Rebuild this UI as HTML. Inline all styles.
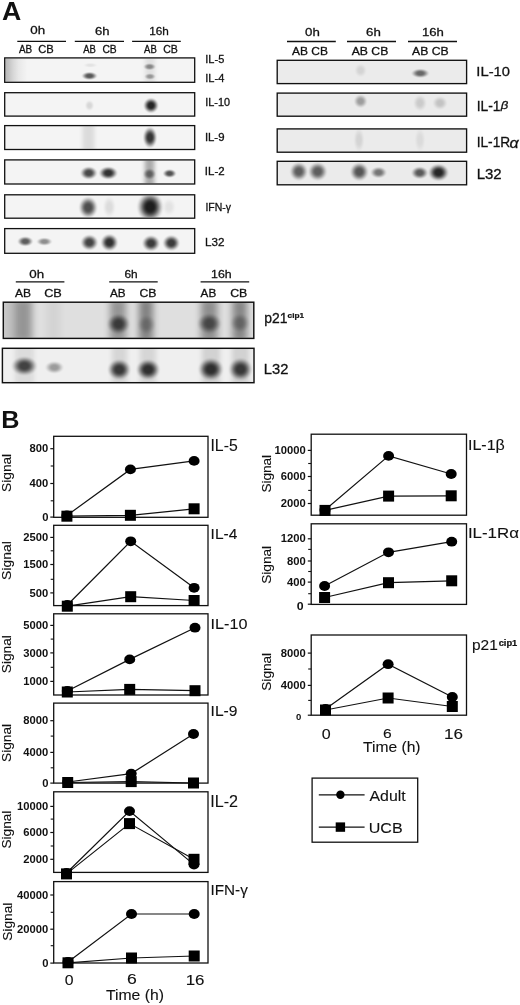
<!DOCTYPE html>
<html><head><meta charset="utf-8"><style>
html,body{margin:0;padding:0;background:#fff;width:520px;height:1005px;overflow:hidden}
svg{display:block}
text{font-family:"Liberation Sans", sans-serif}
</style></head><body>
<svg width="520" height="1005" viewBox="0 0 520 1005" style="filter:grayscale(1)">
<defs>
<clipPath id="bc0"><rect x="5.4" y="58.6" width="188.60" height="23.00"/></clipPath><clipPath id="bc1"><rect x="5.4" y="93.4" width="188.60" height="22.00"/></clipPath><clipPath id="bc2"><rect x="5.4" y="126.3" width="188.60" height="22.50"/></clipPath><clipPath id="bc3"><rect x="5.4" y="160.6" width="188.60" height="22.70"/></clipPath><clipPath id="bc4"><rect x="5.4" y="195.5" width="188.60" height="22.00"/></clipPath><clipPath id="bc5"><rect x="5.4" y="229.29999999999998" width="188.60" height="23.30"/></clipPath><clipPath id="bc6"><rect x="277.9" y="61.0" width="188.00" height="21.90"/></clipPath><clipPath id="bc7"><rect x="277.9" y="93.8" width="188.00" height="21.70"/></clipPath><clipPath id="bc8"><rect x="277.9" y="129.6" width="188.00" height="21.90"/></clipPath><clipPath id="bc9"><rect x="277.9" y="162.0" width="188.00" height="22.10"/></clipPath><clipPath id="bc10"><rect x="4" y="302.9" width="249.10" height="34.80"/></clipPath><clipPath id="bc11"><rect x="3.1" y="349" width="250.20" height="33.00"/></clipPath>
<clipPath id="cp1"><rect x="4" y="302.9" width="249.1" height="34.8"/></clipPath>
<filter id="b5" x="-1" y="-1" width="3" height="3"><feGaussianBlur stdDeviation="0.5"/></filter><filter id="b6" x="-1" y="-1" width="3" height="3"><feGaussianBlur stdDeviation="0.6"/></filter><filter id="b7" x="-1" y="-1" width="3" height="3"><feGaussianBlur stdDeviation="0.7"/></filter><filter id="b8" x="-1" y="-1" width="3" height="3"><feGaussianBlur stdDeviation="0.8"/></filter><filter id="b9" x="-1" y="-1" width="3" height="3"><feGaussianBlur stdDeviation="0.9"/></filter><filter id="b10" x="-1" y="-1" width="3" height="3"><feGaussianBlur stdDeviation="1.0"/></filter><filter id="b11" x="-1" y="-1" width="3" height="3"><feGaussianBlur stdDeviation="1.1"/></filter><filter id="b12" x="-1" y="-1" width="3" height="3"><feGaussianBlur stdDeviation="1.2"/></filter><filter id="b13" x="-1" y="-1" width="3" height="3"><feGaussianBlur stdDeviation="1.3"/></filter><filter id="b14" x="-1" y="-1" width="3" height="3"><feGaussianBlur stdDeviation="1.4"/></filter><filter id="b15" x="-1" y="-1" width="3" height="3"><feGaussianBlur stdDeviation="1.5"/></filter><filter id="b16" x="-1" y="-1" width="3" height="3"><feGaussianBlur stdDeviation="1.6"/></filter><filter id="b17" x="-1" y="-1" width="3" height="3"><feGaussianBlur stdDeviation="1.7"/></filter><filter id="b18" x="-1" y="-1" width="3" height="3"><feGaussianBlur stdDeviation="1.8"/></filter><filter id="b19" x="-1" y="-1" width="3" height="3"><feGaussianBlur stdDeviation="1.9"/></filter><filter id="b20" x="-1" y="-1" width="3" height="3"><feGaussianBlur stdDeviation="2.0"/></filter><filter id="b21" x="-1" y="-1" width="3" height="3"><feGaussianBlur stdDeviation="2.1"/></filter><filter id="b22" x="-1" y="-1" width="3" height="3"><feGaussianBlur stdDeviation="2.2"/></filter><filter id="b23" x="-1" y="-1" width="3" height="3"><feGaussianBlur stdDeviation="2.3"/></filter><filter id="b24" x="-1" y="-1" width="3" height="3"><feGaussianBlur stdDeviation="2.4"/></filter><filter id="b25" x="-1" y="-1" width="3" height="3"><feGaussianBlur stdDeviation="2.5"/></filter><filter id="b26" x="-1" y="-1" width="3" height="3"><feGaussianBlur stdDeviation="2.6"/></filter><filter id="b27" x="-1" y="-1" width="3" height="3"><feGaussianBlur stdDeviation="2.7"/></filter><filter id="b28" x="-1" y="-1" width="3" height="3"><feGaussianBlur stdDeviation="2.8"/></filter><filter id="b29" x="-1" y="-1" width="3" height="3"><feGaussianBlur stdDeviation="2.9"/></filter><filter id="b30" x="-1" y="-1" width="3" height="3"><feGaussianBlur stdDeviation="3.0"/></filter><filter id="b31" x="-1" y="-1" width="3" height="3"><feGaussianBlur stdDeviation="3.1"/></filter><filter id="b32" x="-1" y="-1" width="3" height="3"><feGaussianBlur stdDeviation="3.2"/></filter><filter id="b33" x="-1" y="-1" width="3" height="3"><feGaussianBlur stdDeviation="3.3"/></filter><filter id="b34" x="-1" y="-1" width="3" height="3"><feGaussianBlur stdDeviation="3.4"/></filter><filter id="b35" x="-1" y="-1" width="3" height="3"><feGaussianBlur stdDeviation="3.5"/></filter><filter id="b36" x="-1" y="-1" width="3" height="3"><feGaussianBlur stdDeviation="3.6"/></filter><filter id="b37" x="-1" y="-1" width="3" height="3"><feGaussianBlur stdDeviation="3.7"/></filter><filter id="b38" x="-1" y="-1" width="3" height="3"><feGaussianBlur stdDeviation="3.8"/></filter><filter id="b39" x="-1" y="-1" width="3" height="3"><feGaussianBlur stdDeviation="3.9"/></filter><filter id="b40" x="-1" y="-1" width="3" height="3"><feGaussianBlur stdDeviation="4.0"/></filter>
<radialGradient id="rg" cx="0.5" cy="0.5" r="0.5"><stop offset="0.00" stop-color="#000" stop-opacity="1.000"/><stop offset="0.05" stop-color="#000" stop-opacity="1.000"/><stop offset="0.10" stop-color="#000" stop-opacity="1.000"/><stop offset="0.15" stop-color="#000" stop-opacity="1.000"/><stop offset="0.20" stop-color="#000" stop-opacity="1.000"/><stop offset="0.25" stop-color="#000" stop-opacity="0.990"/><stop offset="0.30" stop-color="#000" stop-opacity="0.962"/><stop offset="0.35" stop-color="#000" stop-opacity="0.916"/><stop offset="0.40" stop-color="#000" stop-opacity="0.854"/><stop offset="0.45" stop-color="#000" stop-opacity="0.778"/><stop offset="0.50" stop-color="#000" stop-opacity="0.691"/><stop offset="0.55" stop-color="#000" stop-opacity="0.598"/><stop offset="0.60" stop-color="#000" stop-opacity="0.500"/><stop offset="0.65" stop-color="#000" stop-opacity="0.402"/><stop offset="0.70" stop-color="#000" stop-opacity="0.309"/><stop offset="0.75" stop-color="#000" stop-opacity="0.222"/><stop offset="0.80" stop-color="#000" stop-opacity="0.146"/><stop offset="0.85" stop-color="#000" stop-opacity="0.084"/><stop offset="0.90" stop-color="#000" stop-opacity="0.038"/><stop offset="0.95" stop-color="#000" stop-opacity="0.010"/><stop offset="1.00" stop-color="#000" stop-opacity="0.000"/></radialGradient>
<linearGradient id="lgl" x1="0" x2="1" y1="0" y2="0"><stop offset="0.00" stop-color="#000" stop-opacity="0.000"/><stop offset="0.05" stop-color="#000" stop-opacity="0.120"/><stop offset="0.10" stop-color="#000" stop-opacity="0.287"/><stop offset="0.15" stop-color="#000" stop-opacity="0.491"/><stop offset="0.20" stop-color="#000" stop-opacity="0.704"/><stop offset="0.25" stop-color="#000" stop-opacity="0.883"/><stop offset="0.30" stop-color="#000" stop-opacity="0.986"/><stop offset="0.35" stop-color="#000" stop-opacity="1.000"/><stop offset="0.40" stop-color="#000" stop-opacity="1.000"/><stop offset="0.45" stop-color="#000" stop-opacity="1.000"/><stop offset="0.50" stop-color="#000" stop-opacity="1.000"/><stop offset="0.55" stop-color="#000" stop-opacity="1.000"/><stop offset="0.60" stop-color="#000" stop-opacity="1.000"/><stop offset="0.65" stop-color="#000" stop-opacity="1.000"/><stop offset="0.70" stop-color="#000" stop-opacity="0.986"/><stop offset="0.75" stop-color="#000" stop-opacity="0.883"/><stop offset="0.80" stop-color="#000" stop-opacity="0.704"/><stop offset="0.85" stop-color="#000" stop-opacity="0.491"/><stop offset="0.90" stop-color="#000" stop-opacity="0.287"/><stop offset="0.95" stop-color="#000" stop-opacity="0.120"/><stop offset="1.00" stop-color="#000" stop-opacity="0.000"/></linearGradient>
<linearGradient id="lg1" x1="0" x2="1" y1="0" y2="0"><stop offset="0" stop-color="#000" stop-opacity="0.25"/><stop offset="0.15" stop-color="#000" stop-opacity="0.2"/><stop offset="0.35" stop-color="#000" stop-opacity="0.12"/><stop offset="0.6" stop-color="#000" stop-opacity="0.05"/><stop offset="1" stop-color="#000" stop-opacity="0"/></linearGradient>
</defs>
<text font-size="100" font-weight="bold" fill="#111" transform="translate(2.10,20.05) scale(0.26667,0.25441)">A</text>
<text font-size="100" font-weight="normal" fill="#111" stroke="#111" stroke-width="2.45" transform="translate(30.37,34.49) scale(0.13366,0.11216)">0h</text>
<text font-size="100" font-weight="normal" fill="#111" stroke="#111" stroke-width="2.47" transform="translate(94.94,34.89) scale(0.13100,0.11216)">6h</text>
<text font-size="100" font-weight="normal" fill="#111" stroke="#111" stroke-width="2.55" transform="translate(149.26,34.88) scale(0.11776,0.11757)">16h</text>
<line x1="17.3" y1="41.4" x2="66" y2="41.4" stroke="#111" stroke-width="1.3"/>
<line x1="74.8" y1="41.4" x2="124" y2="41.4" stroke="#111" stroke-width="1.3"/>
<line x1="132.1" y1="41.4" x2="180.8" y2="41.4" stroke="#111" stroke-width="1.3"/>
<text font-size="100" font-weight="normal" fill="#111" stroke="#111" stroke-width="2.91" transform="translate(19.00,53.00) scale(0.09922,0.10725)">AB</text>
<text font-size="100" font-weight="normal" fill="#111" stroke="#111" stroke-width="2.78" transform="translate(38.14,52.90) scale(0.11163,0.10423)">CB</text>
<text font-size="100" font-weight="normal" fill="#111" stroke="#111" stroke-width="2.98" transform="translate(83.30,53.00) scale(0.09453,0.10725)">AB</text>
<text font-size="100" font-weight="normal" fill="#111" stroke="#111" stroke-width="2.89" transform="translate(102.38,52.90) scale(0.10310,0.10423)">CB</text>
<text font-size="100" font-weight="normal" fill="#111" stroke="#111" stroke-width="2.97" transform="translate(144.10,53.00) scale(0.09531,0.10725)">AB</text>
<text font-size="100" font-weight="normal" fill="#111" stroke="#111" stroke-width="2.86" transform="translate(163.17,52.90) scale(0.10543,0.10423)">CB</text>
<rect x="4.7" y="57.9" width="190.0" height="24.4" fill="#f4f4f4" stroke="#111" stroke-width="1.3"/>
<rect x="4.7" y="92.7" width="190.0" height="23.39999999999999" fill="#f4f4f4" stroke="#111" stroke-width="1.3"/>
<rect x="4.7" y="125.6" width="190.0" height="23.900000000000006" fill="#f4f4f4" stroke="#111" stroke-width="1.3"/>
<rect x="4.7" y="159.9" width="190.0" height="24.099999999999994" fill="#f4f4f4" stroke="#111" stroke-width="1.3"/>
<rect x="4.7" y="194.8" width="190.0" height="23.399999999999977" fill="#f4f4f4" stroke="#111" stroke-width="1.3"/>
<rect x="4.7" y="228.6" width="190.0" height="24.700000000000017" fill="#f4f4f4" stroke="#111" stroke-width="1.3"/>
<rect x="5.4" y="58.6" width="22" height="23" fill="url(#lg1)"/>
<ellipse cx="89.5" cy="75.9" rx="8.79" ry="4.55" fill="url(#rg)" opacity="0.64" clip-path="url(#bc0)"/>
<ellipse cx="90.4" cy="65.2" rx="7.88" ry="2.73" fill="url(#rg)" opacity="0.07" clip-path="url(#bc0)"/>
<ellipse cx="149.6" cy="66.7" rx="6.97" ry="3.94" fill="url(#rg)" opacity="0.4" clip-path="url(#bc0)"/>
<ellipse cx="150" cy="76.5" rx="6.36" ry="3.64" fill="url(#rg)" opacity="0.33" clip-path="url(#bc0)"/>
<rect x="145" y="56" width="10" height="29" fill="#000" opacity="0.08" filter="url(#b20)" clip-path="url(#bc0)"/>
<ellipse cx="89.5" cy="105.5" rx="5.30" ry="6.06" fill="url(#rg)" opacity="0.12" clip-path="url(#bc1)"/>
<ellipse cx="151" cy="105.5" rx="8.48" ry="8.48" fill="url(#rg)" opacity="0.85" clip-path="url(#bc1)"/>
<rect x="82.7" y="122" width="11.5" height="31" fill="#000" opacity="0.1" filter="url(#b20)" clip-path="url(#bc2)"/>
<ellipse cx="150" cy="137.5" rx="7.88" ry="11.82" fill="url(#rg)" opacity="0.78" clip-path="url(#bc2)"/>
<ellipse cx="88.8" cy="173" rx="9.55" ry="7.27" fill="url(#rg)" opacity="0.7" clip-path="url(#bc3)"/>
<ellipse cx="108.3" cy="173" rx="10.45" ry="7.27" fill="url(#rg)" opacity="0.8" clip-path="url(#bc3)"/>
<rect x="144.8" y="156" width="9.5" height="32" fill="#000" opacity="0.3" filter="url(#b20)" clip-path="url(#bc3)"/>
<ellipse cx="149.5" cy="174" rx="7.27" ry="6.36" fill="url(#rg)" opacity="0.45" clip-path="url(#bc3)"/>
<ellipse cx="169.6" cy="173.5" rx="7.58" ry="4.85" fill="url(#rg)" opacity="0.66" clip-path="url(#bc3)"/>
<ellipse cx="88.2" cy="207.5" rx="10.45" ry="11.97" fill="url(#rg)" opacity="0.68" clip-path="url(#bc4)"/>
<ellipse cx="109.3" cy="207" rx="7.27" ry="12.12" fill="url(#rg)" opacity="0.1" clip-path="url(#bc4)"/>
<ellipse cx="150.1" cy="207" rx="14.39" ry="16.06" fill="url(#rg)" opacity="0.88" clip-path="url(#bc4)"/>
<ellipse cx="169.1" cy="207" rx="7.58" ry="9.85" fill="url(#rg)" opacity="0.07" clip-path="url(#bc4)"/>
<ellipse cx="25.3" cy="241.4" rx="8.79" ry="5.61" fill="url(#rg)" opacity="0.62" clip-path="url(#bc5)"/>
<ellipse cx="44.4" cy="241.6" rx="8.79" ry="4.55" fill="url(#rg)" opacity="0.42" clip-path="url(#bc5)"/>
<ellipse cx="89.4" cy="242.5" rx="9.70" ry="8.79" fill="url(#rg)" opacity="0.72" clip-path="url(#bc5)"/>
<ellipse cx="109.4" cy="242.5" rx="9.70" ry="9.55" fill="url(#rg)" opacity="0.8" clip-path="url(#bc5)"/>
<ellipse cx="151" cy="243.3" rx="9.85" ry="8.94" fill="url(#rg)" opacity="0.76" clip-path="url(#bc5)"/>
<ellipse cx="171.3" cy="243" rx="9.55" ry="8.79" fill="url(#rg)" opacity="0.76" clip-path="url(#bc5)"/>
<text font-size="100" font-weight="normal" fill="#111" stroke="#111" stroke-width="2.69" transform="translate(205.31,62.59) scale(0.11006,0.11286)">IL-5</text>
<text font-size="100" font-weight="normal" fill="#111" stroke="#111" stroke-width="2.70" transform="translate(205.30,81.70) scale(0.11062,0.11159)">IL-4</text>
<text font-size="100" font-weight="normal" fill="#111" stroke="#111" stroke-width="2.80" transform="translate(205.32,106.39) scale(0.10837,0.10563)">IL-10</text>
<text font-size="100" font-weight="normal" fill="#111" stroke="#111" stroke-width="2.70" transform="translate(204.88,141.49) scale(0.11384,0.10845)">IL-9</text>
<text font-size="100" font-weight="normal" fill="#111" stroke="#111" stroke-width="2.71" transform="translate(204.87,175.00) scale(0.11456,0.10714)">IL-2</text>
<text font-size="100" font-weight="normal" fill="#111" stroke="#111" stroke-width="2.71" transform="translate(205.46,210.85) scale(0.10468,0.11667)">IFN-&#947;</text>
<text font-size="100" font-weight="normal" fill="#111" stroke="#111" stroke-width="2.58" transform="translate(205.06,245.68) scale(0.11688,0.11549)">L32</text>
<text font-size="100" font-weight="normal" fill="#111" stroke="#111" stroke-width="2.43" transform="translate(305.07,35.69) scale(0.13267,0.11486)">0h</text>
<text font-size="100" font-weight="normal" fill="#111" stroke="#111" stroke-width="2.43" transform="translate(366.03,35.69) scale(0.13300,0.11486)">6h</text>
<text font-size="100" font-weight="normal" fill="#111" stroke="#111" stroke-width="2.41" transform="translate(421.95,35.88) scale(0.13158,0.11757)">16h</text>
<line x1="287" y1="41.5" x2="335.8" y2="41.5" stroke="#111" stroke-width="1.3"/>
<line x1="347" y1="41.5" x2="396" y2="41.5" stroke="#111" stroke-width="1.3"/>
<line x1="408" y1="41.5" x2="457" y2="41.5" stroke="#111" stroke-width="1.3"/>
<text font-size="100" font-weight="normal" fill="#111" stroke="#111" stroke-width="2.63" transform="translate(292.00,55.49) scale(0.11966,0.10845)">AB CB</text>
<text font-size="100" font-weight="normal" fill="#111" stroke="#111" stroke-width="2.61" transform="translate(351.70,55.49) scale(0.12203,0.10845)">AB CB</text>
<text font-size="100" font-weight="normal" fill="#111" stroke="#111" stroke-width="2.61" transform="translate(412.00,55.49) scale(0.12203,0.10845)">AB CB</text>
<rect x="277.2" y="60.3" width="189.40000000000003" height="23.299999999999997" fill="#ebebeb" stroke="#111" stroke-width="1.35"/>
<rect x="277.2" y="93.1" width="189.40000000000003" height="23.10000000000001" fill="#ebebeb" stroke="#111" stroke-width="1.35"/>
<rect x="277.2" y="128.9" width="189.40000000000003" height="23.299999999999983" fill="#ebebeb" stroke="#111" stroke-width="1.35"/>
<rect x="277.2" y="161.3" width="189.40000000000003" height="23.5" fill="#ebebeb" stroke="#111" stroke-width="1.35"/>
<ellipse cx="360.6" cy="70.4" rx="6.82" ry="7.58" fill="url(#rg)" opacity="0.1" clip-path="url(#bc6)"/>
<ellipse cx="420.3" cy="73.3" rx="10.00" ry="5.15" fill="url(#rg)" opacity="0.56" clip-path="url(#bc6)"/>
<ellipse cx="360.6" cy="101.2" rx="7.58" ry="7.58" fill="url(#rg)" opacity="0.33" clip-path="url(#bc7)"/>
<ellipse cx="420" cy="103" rx="7.58" ry="9.09" fill="url(#rg)" opacity="0.14" clip-path="url(#bc7)"/>
<ellipse cx="440" cy="103" rx="8.33" ry="7.58" fill="url(#rg)" opacity="0.17" clip-path="url(#bc7)"/>
<ellipse cx="359" cy="140" rx="6.06" ry="13.64" fill="url(#rg)" opacity="0.1" clip-path="url(#bc8)"/>
<ellipse cx="420" cy="140" rx="6.06" ry="13.64" fill="url(#rg)" opacity="0.07" clip-path="url(#bc8)"/>
<ellipse cx="298.8" cy="171.5" rx="10.00" ry="10.30" fill="url(#rg)" opacity="0.6" clip-path="url(#bc9)"/>
<ellipse cx="317.7" cy="171.5" rx="10.61" ry="10.30" fill="url(#rg)" opacity="0.6" clip-path="url(#bc9)"/>
<ellipse cx="359.3" cy="171.8" rx="10.30" ry="10.30" fill="url(#rg)" opacity="0.64" clip-path="url(#bc9)"/>
<ellipse cx="378.6" cy="172.5" rx="9.09" ry="6.36" fill="url(#rg)" opacity="0.5" clip-path="url(#bc9)"/>
<ellipse cx="419.7" cy="172.8" rx="9.39" ry="6.97" fill="url(#rg)" opacity="0.62" clip-path="url(#bc9)"/>
<ellipse cx="438.5" cy="172.5" rx="11.36" ry="9.55" fill="url(#rg)" opacity="0.84" clip-path="url(#bc9)"/>
<text font-size="100" font-weight="normal" fill="#111" stroke="#111" stroke-width="2.11" transform="translate(476.37,75.86) scale(0.14744,0.13662)">IL-10</text>
<text font-size="100" font-weight="normal" fill="#111" stroke="#111" stroke-width="2.10" transform="translate(476.65,110.80) scale(0.13861,0.14783)">IL-1</text>
<text font-size="100" font-weight="normal" fill="#111" stroke="#111" stroke-width="2.43" transform="translate(500.66,109.46) scale(0.13158,0.11596)"><tspan font-style="italic">&#946;</tspan></text>
<text font-size="100" font-weight="normal" fill="#111" stroke="#111" stroke-width="2.07" transform="translate(476.66,147.20) scale(0.13739,0.15217)">IL-1R</text>
<text font-size="100" font-weight="normal" fill="#111" stroke="#111" stroke-width="1.94" transform="translate(509.52,147.55) scale(0.16071,0.14909)"><tspan font-style="italic">&#945;</tspan></text>
<text font-size="100" font-weight="normal" fill="#111" stroke="#111" stroke-width="2.02" transform="translate(476.70,179.25) scale(0.15000,0.14648)">L32</text>
<text font-size="100" font-weight="normal" fill="#111" stroke="#111" stroke-width="2.42" transform="translate(29.27,278.39) scale(0.13366,0.11486)">0h</text>
<text font-size="100" font-weight="normal" fill="#111" stroke="#111" stroke-width="2.57" transform="translate(124.41,278.39) scale(0.11900,0.11486)">6h</text>
<text font-size="100" font-weight="normal" fill="#111" stroke="#111" stroke-width="2.52" transform="translate(211.01,278.39) scale(0.12368,0.11486)">16h</text>
<line x1="15.8" y1="281.9" x2="64.4" y2="281.9" stroke="#111" stroke-width="1.4"/>
<line x1="109.2" y1="281.9" x2="157.7" y2="281.9" stroke="#111" stroke-width="1.4"/>
<line x1="200.6" y1="281.9" x2="249.2" y2="281.9" stroke="#111" stroke-width="1.4"/>
<text font-size="100" font-weight="normal" fill="#111" stroke="#111" stroke-width="2.52" transform="translate(15.00,297.30) scale(0.12031,0.11739)">AB</text>
<text font-size="100" font-weight="normal" fill="#111" stroke="#111" stroke-width="2.49" transform="translate(44.16,297.19) scale(0.12713,0.11408)">CB</text>
<text font-size="100" font-weight="normal" fill="#111" stroke="#111" stroke-width="2.56" transform="translate(110.00,297.30) scale(0.11719,0.11739)">AB</text>
<text font-size="100" font-weight="normal" fill="#111" stroke="#111" stroke-width="2.54" transform="translate(139.39,297.19) scale(0.12248,0.11408)">CB</text>
<text font-size="100" font-weight="normal" fill="#111" stroke="#111" stroke-width="2.56" transform="translate(200.60,297.30) scale(0.11719,0.11739)">AB</text>
<text font-size="100" font-weight="normal" fill="#111" stroke="#111" stroke-width="2.53" transform="translate(230.18,297.19) scale(0.12326,0.11408)">CB</text>
<rect x="3.3" y="302.2" width="250.5" height="36.19999999999999" fill="#dfdfdf" stroke="#111" stroke-width="1.45"/>
<rect x="2.4" y="348.3" width="251.6" height="34.39999999999998" fill="#efefef" stroke="#111" stroke-width="1.45"/>
<rect x="14" y="298.5" width="18" height="43.19999999999999" fill="#000" opacity="0.33" filter="url(#b35)" clip-path="url(#bc10)"/>
<rect x="47" y="298.5" width="13" height="43.19999999999999" fill="#000" opacity="0.05" filter="url(#b35)" clip-path="url(#bc10)"/>
<rect x="110" y="298.5" width="16" height="43.19999999999999" fill="#000" opacity="0.33" filter="url(#b35)" clip-path="url(#bc10)"/>
<rect x="139" y="298.5" width="14" height="43.19999999999999" fill="#000" opacity="0.42" filter="url(#b35)" clip-path="url(#bc10)"/>
<rect x="201" y="298.5" width="16.5" height="43.19999999999999" fill="#000" opacity="0.36" filter="url(#b35)" clip-path="url(#bc10)"/>
<rect x="232.5" y="298.5" width="14.5" height="43.19999999999999" fill="#000" opacity="0.4" filter="url(#b35)" clip-path="url(#bc10)"/>
<rect x="2" y="298.5" width="12" height="43.19999999999999" fill="#000" opacity="0.12" filter="url(#b30)" clip-path="url(#bc10)"/>
<ellipse cx="118.5" cy="324" rx="12.88" ry="11.36" fill="url(#rg)" opacity="0.62" clip-path="url(#bc10)"/>
<ellipse cx="146.5" cy="324.5" rx="10.61" ry="10.61" fill="url(#rg)" opacity="0.22" clip-path="url(#bc10)"/>
<ellipse cx="209.4" cy="323.5" rx="13.64" ry="11.36" fill="url(#rg)" opacity="0.52" clip-path="url(#bc10)"/>
<ellipse cx="240" cy="323" rx="11.36" ry="10.61" fill="url(#rg)" opacity="0.28" clip-path="url(#bc10)"/>
<rect x="15" y="345" width="19" height="41" fill="#000" opacity="0.08" filter="url(#b25)" clip-path="url(#bc11)"/>
<rect x="112" y="345" width="15" height="41" fill="#000" opacity="0.1" filter="url(#b25)" clip-path="url(#bc11)"/>
<rect x="140" y="345" width="16" height="41" fill="#000" opacity="0.1" filter="url(#b25)" clip-path="url(#bc11)"/>
<rect x="202" y="345" width="18" height="41" fill="#000" opacity="0.12" filter="url(#b25)" clip-path="url(#bc11)"/>
<rect x="232" y="345" width="17" height="41" fill="#000" opacity="0.12" filter="url(#b25)" clip-path="url(#bc11)"/>
<ellipse cx="24.4" cy="366" rx="14.24" ry="10.61" fill="url(#rg)" opacity="0.7" clip-path="url(#bc11)"/>
<ellipse cx="54.4" cy="367.4" rx="10.45" ry="6.97" fill="url(#rg)" opacity="0.35" clip-path="url(#bc11)"/>
<ellipse cx="119.2" cy="369.6" rx="12.88" ry="11.52" fill="url(#rg)" opacity="0.74" clip-path="url(#bc11)"/>
<ellipse cx="148.1" cy="369.6" rx="13.18" ry="11.52" fill="url(#rg)" opacity="0.78" clip-path="url(#bc11)"/>
<ellipse cx="210.8" cy="369.3" rx="13.94" ry="12.58" fill="url(#rg)" opacity="0.78" clip-path="url(#bc11)"/>
<ellipse cx="240.5" cy="369.3" rx="13.18" ry="12.58" fill="url(#rg)" opacity="0.74" clip-path="url(#bc11)"/>
<text font-size="100" font-weight="normal" fill="#111" stroke="#111" stroke-width="2.14" transform="translate(264.32,323.05) scale(0.13935,0.14066)">p21</text>
<text font-size="100" font-weight="bold" fill="#111" stroke="#111" stroke-width="3.15" transform="translate(287.57,318.29) scale(0.08238,0.07660)">cip1</text>
<text font-size="100" font-weight="normal" fill="#111" stroke="#111" stroke-width="2.06" transform="translate(263.82,374.06) scale(0.14740,0.14366)">L32</text>
<text font-size="100" font-weight="bold" fill="#111" transform="translate(1.13,427.90) scale(0.25246,0.23043)">B</text>
<rect x="53.7" y="436.3" width="154.3" height="80.99999999999994" fill="none" stroke="#111" stroke-width="1.3"/>
<line x1="50.300000000000004" y1="448.7" x2="53.7" y2="448.7" stroke="#111" stroke-width="1.2"/>
<text font-size="100" font-weight="bold" fill="#111" transform="translate(29.55,452.39) scale(0.11256,0.10704)">800</text>
<line x1="50.300000000000004" y1="483.5" x2="53.7" y2="483.5" stroke="#111" stroke-width="1.2"/>
<text font-size="100" font-weight="bold" fill="#111" transform="translate(29.55,487.19) scale(0.11256,0.10704)">400</text>
<line x1="50.300000000000004" y1="517.1" x2="53.7" y2="517.1" stroke="#111" stroke-width="1.2"/>
<text font-size="100" font-weight="bold" fill="#111" transform="translate(42.16,520.79) scale(0.11256,0.10704)">0</text>
<line x1="50.7" y1="466" x2="53.7" y2="466" stroke="#111" stroke-width="1.1"/>
<line x1="50.7" y1="500.8" x2="53.7" y2="500.8" stroke="#111" stroke-width="1.1"/>
<polyline points="66.9,515.5 130.4,469.4 194.1,460.9" fill="none" stroke="#111" stroke-width="1.2"/>
<polyline points="66.9,516.2 130.4,515.3 194.1,508.8" fill="none" stroke="#111" stroke-width="1.2"/>
<ellipse cx="66.9" cy="515.5" rx="5.5" ry="4.9" fill="#000"/>
<ellipse cx="130.4" cy="469.4" rx="5.5" ry="4.9" fill="#000"/>
<ellipse cx="194.1" cy="460.9" rx="5.5" ry="4.9" fill="#000"/>
<rect x="61.40" y="510.70" width="11" height="11" fill="#000"/>
<rect x="124.90" y="509.80" width="11" height="11" fill="#000"/>
<rect x="188.60" y="503.30" width="11" height="11" fill="#000"/>
<text font-size="100" font-weight="normal" fill="#111" stroke="#111" stroke-width="0.76" transform="translate(210.48,451.24) scale(0.15786,0.15714)">IL-5</text>
<text font-size="100" font-weight="normal" fill="#111" stroke="#111" stroke-width="0.89" transform="translate(11.11,491.88) rotate(-90) scale(0.13684,0.13298)">Signal</text>
<rect x="53.7" y="525.3" width="154.3" height="80.30000000000007" fill="none" stroke="#111" stroke-width="1.3"/>
<line x1="50.300000000000004" y1="537.4" x2="53.7" y2="537.4" stroke="#111" stroke-width="1.2"/>
<text font-size="100" font-weight="bold" fill="#111" transform="translate(23.36,541.09) scale(0.11256,0.10704)">2500</text>
<line x1="50.300000000000004" y1="564.5" x2="53.7" y2="564.5" stroke="#111" stroke-width="1.2"/>
<text font-size="100" font-weight="bold" fill="#111" transform="translate(23.36,568.19) scale(0.11256,0.10704)">1500</text>
<line x1="50.300000000000004" y1="592.9" x2="53.7" y2="592.9" stroke="#111" stroke-width="1.2"/>
<text font-size="100" font-weight="bold" fill="#111" transform="translate(29.55,596.59) scale(0.11256,0.10704)">500</text>
<line x1="50.7" y1="550.8" x2="53.7" y2="550.8" stroke="#111" stroke-width="1.1"/>
<line x1="50.7" y1="579.3" x2="53.7" y2="579.3" stroke="#111" stroke-width="1.1"/>
<polyline points="67.3,605 130.7,541.3 194.1,587.8" fill="none" stroke="#111" stroke-width="1.2"/>
<polyline points="67.3,606.2 130.7,596.7 194.1,600.5" fill="none" stroke="#111" stroke-width="1.2"/>
<ellipse cx="67.3" cy="605" rx="5.5" ry="4.9" fill="#000"/>
<ellipse cx="130.7" cy="541.3" rx="5.5" ry="4.9" fill="#000"/>
<ellipse cx="194.1" cy="587.8" rx="5.5" ry="4.9" fill="#000"/>
<rect x="61.80" y="600.70" width="11" height="11" fill="#000"/>
<rect x="125.20" y="591.20" width="11" height="11" fill="#000"/>
<rect x="188.60" y="595.00" width="11" height="11" fill="#000"/>
<text font-size="100" font-weight="normal" fill="#111" stroke="#111" stroke-width="0.79" transform="translate(210.60,539.30) scale(0.15500,0.14928)">IL-4</text>
<text font-size="100" font-weight="normal" fill="#111" stroke="#111" stroke-width="0.89" transform="translate(11.07,580.00) rotate(-90) scale(0.13947,0.12979)">Signal</text>
<rect x="53.7" y="613.8" width="154.3" height="81.20000000000005" fill="none" stroke="#111" stroke-width="1.3"/>
<line x1="50.300000000000004" y1="625.4" x2="53.7" y2="625.4" stroke="#111" stroke-width="1.2"/>
<text font-size="100" font-weight="bold" fill="#111" transform="translate(23.36,629.09) scale(0.11256,0.10704)">5000</text>
<line x1="50.300000000000004" y1="652.9" x2="53.7" y2="652.9" stroke="#111" stroke-width="1.2"/>
<text font-size="100" font-weight="bold" fill="#111" transform="translate(23.36,656.59) scale(0.11256,0.10704)">3000</text>
<line x1="50.300000000000004" y1="681.4" x2="53.7" y2="681.4" stroke="#111" stroke-width="1.2"/>
<text font-size="100" font-weight="bold" fill="#111" transform="translate(23.36,685.09) scale(0.11256,0.10704)">1000</text>
<line x1="50.7" y1="639.1" x2="53.7" y2="639.1" stroke="#111" stroke-width="1.1"/>
<line x1="50.7" y1="667.3" x2="53.7" y2="667.3" stroke="#111" stroke-width="1.1"/>
<polyline points="67.3,691 129.7,659.4 195,627.7" fill="none" stroke="#111" stroke-width="1.2"/>
<polyline points="67.3,692 129.7,689.4 195,690.7" fill="none" stroke="#111" stroke-width="1.2"/>
<ellipse cx="67.3" cy="691" rx="5.5" ry="4.9" fill="#000"/>
<ellipse cx="129.7" cy="659.4" rx="5.5" ry="4.9" fill="#000"/>
<ellipse cx="195" cy="627.7" rx="5.5" ry="4.9" fill="#000"/>
<rect x="61.80" y="686.50" width="11" height="11" fill="#000"/>
<rect x="124.20" y="683.90" width="11" height="11" fill="#000"/>
<rect x="189.50" y="685.20" width="11" height="11" fill="#000"/>
<text font-size="100" font-weight="normal" fill="#111" stroke="#111" stroke-width="0.78" transform="translate(210.54,629.35) scale(0.16186,0.14648)">IL-10</text>
<text font-size="100" font-weight="normal" fill="#111" stroke="#111" stroke-width="0.90" transform="translate(11.07,673.19) rotate(-90) scale(0.13722,0.12979)">Signal</text>
<rect x="53.7" y="703.1" width="154.3" height="80.0" fill="none" stroke="#111" stroke-width="1.3"/>
<line x1="50.300000000000004" y1="720.7" x2="53.7" y2="720.7" stroke="#111" stroke-width="1.2"/>
<text font-size="100" font-weight="bold" fill="#111" transform="translate(23.36,724.39) scale(0.11256,0.10704)">8000</text>
<line x1="50.300000000000004" y1="752.4" x2="53.7" y2="752.4" stroke="#111" stroke-width="1.2"/>
<text font-size="100" font-weight="bold" fill="#111" transform="translate(23.36,756.09) scale(0.11256,0.10704)">4000</text>
<line x1="50.300000000000004" y1="783.1" x2="53.7" y2="783.1" stroke="#111" stroke-width="1.2"/>
<text font-size="100" font-weight="bold" fill="#111" transform="translate(42.16,786.79) scale(0.11256,0.10704)">0</text>
<line x1="50.7" y1="736.1" x2="53.7" y2="736.1" stroke="#111" stroke-width="1.1"/>
<line x1="50.7" y1="767.8" x2="53.7" y2="767.8" stroke="#111" stroke-width="1.1"/>
<polyline points="67.7,782 131.2,773.6 193.5,734" fill="none" stroke="#111" stroke-width="1.2"/>
<polyline points="67.7,782.5 131.2,781.6 193.5,783" fill="none" stroke="#111" stroke-width="1.2"/>
<ellipse cx="67.7" cy="782" rx="5.5" ry="4.9" fill="#000"/>
<ellipse cx="131.2" cy="773.6" rx="5.5" ry="4.9" fill="#000"/>
<ellipse cx="193.5" cy="734" rx="5.5" ry="4.9" fill="#000"/>
<rect x="62.20" y="777.00" width="11" height="11" fill="#000"/>
<rect x="125.70" y="776.10" width="11" height="11" fill="#000"/>
<rect x="188.00" y="777.50" width="11" height="11" fill="#000"/>
<text font-size="100" font-weight="normal" fill="#111" stroke="#111" stroke-width="0.80" transform="translate(210.60,716.15) scale(0.15597,0.14507)">IL-9</text>
<text font-size="100" font-weight="normal" fill="#111" stroke="#111" stroke-width="0.90" transform="translate(11.07,761.98) rotate(-90) scale(0.13684,0.12979)">Signal</text>
<rect x="53.7" y="791.8" width="154.3" height="80.60000000000002" fill="none" stroke="#111" stroke-width="1.3"/>
<line x1="50.300000000000004" y1="806.4" x2="53.7" y2="806.4" stroke="#111" stroke-width="1.2"/>
<text font-size="100" font-weight="bold" fill="#111" transform="translate(17.06,810.09) scale(0.11256,0.10704)">10000</text>
<line x1="50.300000000000004" y1="832.5" x2="53.7" y2="832.5" stroke="#111" stroke-width="1.2"/>
<text font-size="100" font-weight="bold" fill="#111" transform="translate(23.36,836.19) scale(0.11256,0.10704)">6000</text>
<line x1="50.300000000000004" y1="859.3" x2="53.7" y2="859.3" stroke="#111" stroke-width="1.2"/>
<text font-size="100" font-weight="bold" fill="#111" transform="translate(23.36,862.99) scale(0.11256,0.10704)">2000</text>
<line x1="50.7" y1="819.1" x2="53.7" y2="819.1" stroke="#111" stroke-width="1.1"/>
<line x1="50.7" y1="846" x2="53.7" y2="846" stroke="#111" stroke-width="1.1"/>
<polyline points="66.5,873 129.5,811.1 194,864.6" fill="none" stroke="#111" stroke-width="1.2"/>
<polyline points="66.5,873.9 129.5,823.6 194,859.3" fill="none" stroke="#111" stroke-width="1.2"/>
<ellipse cx="66.5" cy="873" rx="5.5" ry="4.9" fill="#000"/>
<ellipse cx="129.5" cy="811.1" rx="5.5" ry="4.9" fill="#000"/>
<ellipse cx="194" cy="864.6" rx="5.5" ry="4.9" fill="#000"/>
<rect x="61.00" y="868.40" width="11" height="11" fill="#000"/>
<rect x="124.00" y="818.10" width="11" height="11" fill="#000"/>
<rect x="188.50" y="853.80" width="11" height="11" fill="#000"/>
<text font-size="100" font-weight="normal" fill="#111" stroke="#111" stroke-width="0.75" transform="translate(210.25,806.80) scale(0.16139,0.15714)">IL-2</text>
<text font-size="100" font-weight="normal" fill="#111" stroke="#111" stroke-width="0.90" transform="translate(11.07,848.48) rotate(-90) scale(0.13609,0.12979)">Signal</text>
<rect x="53.7" y="881.6" width="154.3" height="81.39999999999998" fill="none" stroke="#111" stroke-width="1.3"/>
<line x1="50.300000000000004" y1="895" x2="53.7" y2="895" stroke="#111" stroke-width="1.2"/>
<text font-size="100" font-weight="bold" fill="#111" transform="translate(17.06,898.69) scale(0.11256,0.10704)">40000</text>
<line x1="50.300000000000004" y1="929.2" x2="53.7" y2="929.2" stroke="#111" stroke-width="1.2"/>
<text font-size="100" font-weight="bold" fill="#111" transform="translate(17.06,932.89) scale(0.11256,0.10704)">20000</text>
<line x1="50.300000000000004" y1="963.1" x2="53.7" y2="963.1" stroke="#111" stroke-width="1.2"/>
<text font-size="100" font-weight="bold" fill="#111" transform="translate(42.16,966.79) scale(0.11256,0.10704)">0</text>
<line x1="50.7" y1="912.3" x2="53.7" y2="912.3" stroke="#111" stroke-width="1.1"/>
<line x1="50.7" y1="945.7" x2="53.7" y2="945.7" stroke="#111" stroke-width="1.1"/>
<polyline points="68,962 131.5,914 194.2,914" fill="none" stroke="#111" stroke-width="1.2"/>
<polyline points="68,962.8 131.5,958 194.2,956" fill="none" stroke="#111" stroke-width="1.2"/>
<ellipse cx="68" cy="962" rx="5.5" ry="4.9" fill="#000"/>
<ellipse cx="131.5" cy="914" rx="5.5" ry="4.9" fill="#000"/>
<ellipse cx="194.2" cy="914" rx="5.5" ry="4.9" fill="#000"/>
<rect x="62.50" y="957.30" width="11" height="11" fill="#000"/>
<rect x="126.00" y="952.50" width="11" height="11" fill="#000"/>
<rect x="188.70" y="950.50" width="11" height="11" fill="#000"/>
<text font-size="100" font-weight="normal" fill="#111" stroke="#111" stroke-width="0.79" transform="translate(210.53,894.95) scale(0.15277,0.15000)">IFN-&#947;</text>
<text font-size="100" font-weight="normal" fill="#111" stroke="#111" stroke-width="0.88" transform="translate(12.36,940.79) rotate(-90) scale(0.13722,0.13511)">Signal</text>
<text font-size="100" font-weight="normal" fill="#111" stroke="#111" stroke-width="0.77" transform="translate(64.77,984.65) scale(0.15833,0.15211)">0</text>
<text font-size="100" font-weight="normal" fill="#111" stroke="#111" stroke-width="0.74" transform="translate(127.02,984.35) scale(0.17609,0.14789)">6</text>
<text font-size="100" font-weight="normal" fill="#111" stroke="#111" stroke-width="0.75" transform="translate(185.64,984.65) scale(0.16970,0.15211)">16</text>
<text font-size="100" font-weight="normal" fill="#111" stroke="#111" stroke-width="0.77" transform="translate(105.99,999.78) scale(0.15722,0.15319)">Time (h)</text>
<rect x="311.2" y="434.2" width="155.3" height="81.00000000000006" fill="none" stroke="#111" stroke-width="1.3"/>
<line x1="307.8" y1="450.4" x2="311.2" y2="450.4" stroke="#111" stroke-width="1.2"/>
<text font-size="100" font-weight="bold" fill="#111" transform="translate(274.56,454.09) scale(0.11256,0.10704)">10000</text>
<line x1="307.8" y1="476.5" x2="311.2" y2="476.5" stroke="#111" stroke-width="1.2"/>
<text font-size="100" font-weight="bold" fill="#111" transform="translate(280.86,480.19) scale(0.11256,0.10704)">6000</text>
<line x1="307.8" y1="503.5" x2="311.2" y2="503.5" stroke="#111" stroke-width="1.2"/>
<text font-size="100" font-weight="bold" fill="#111" transform="translate(280.86,507.19) scale(0.11256,0.10704)">2000</text>
<line x1="308.2" y1="463.5" x2="311.2" y2="463.5" stroke="#111" stroke-width="1.1"/>
<line x1="308.2" y1="490.4" x2="311.2" y2="490.4" stroke="#111" stroke-width="1.1"/>
<polyline points="325,510 388.6,455.9 451.2,474" fill="none" stroke="#111" stroke-width="1.2"/>
<polyline points="325,510.4 388.6,496.1 451.2,495.8" fill="none" stroke="#111" stroke-width="1.2"/>
<ellipse cx="325" cy="510" rx="5.5" ry="4.9" fill="#000"/>
<ellipse cx="388.6" cy="455.9" rx="5.5" ry="4.9" fill="#000"/>
<ellipse cx="451.2" cy="474" rx="5.5" ry="4.9" fill="#000"/>
<rect x="319.50" y="504.90" width="11" height="11" fill="#000"/>
<rect x="383.10" y="490.60" width="11" height="11" fill="#000"/>
<rect x="445.70" y="490.30" width="11" height="11" fill="#000"/>
<text font-size="100" font-weight="normal" fill="#111" stroke="#111" stroke-width="0.78" transform="translate(467.96,449.54) scale(0.16037,0.14574)">IL-1&#946;</text>
<text font-size="100" font-weight="normal" fill="#111" stroke="#111" stroke-width="0.90" transform="translate(271.47,492.58) rotate(-90) scale(0.13571,0.12979)">Signal</text>
<rect x="311.2" y="523.8" width="155.3" height="80.60000000000002" fill="none" stroke="#111" stroke-width="1.3"/>
<line x1="307.8" y1="538.8" x2="311.2" y2="538.8" stroke="#111" stroke-width="1.2"/>
<text font-size="100" font-weight="bold" fill="#111" transform="translate(280.86,542.49) scale(0.11256,0.10704)">1200</text>
<line x1="307.8" y1="561" x2="311.2" y2="561" stroke="#111" stroke-width="1.2"/>
<text font-size="100" font-weight="bold" fill="#111" transform="translate(287.05,564.69) scale(0.11256,0.10704)">800</text>
<line x1="307.8" y1="582.1" x2="311.2" y2="582.1" stroke="#111" stroke-width="1.2"/>
<text font-size="100" font-weight="bold" fill="#111" transform="translate(287.05,585.79) scale(0.11256,0.10704)">400</text>
<line x1="307.8" y1="604.2" x2="311.2" y2="604.2" stroke="#111" stroke-width="1.2"/>
<line x1="308.2" y1="549.4" x2="311.2" y2="549.4" stroke="#111" stroke-width="1.1"/>
<line x1="308.2" y1="571.5" x2="311.2" y2="571.5" stroke="#111" stroke-width="1.1"/>
<line x1="308.2" y1="593.7" x2="311.2" y2="593.7" stroke="#111" stroke-width="1.1"/>
<polyline points="324.6,586 388.5,552.3 451.7,541.7" fill="none" stroke="#111" stroke-width="1.2"/>
<polyline points="324.6,597.5 388.5,582.7 451.7,580.8" fill="none" stroke="#111" stroke-width="1.2"/>
<ellipse cx="324.6" cy="586" rx="5.5" ry="4.9" fill="#000"/>
<ellipse cx="388.5" cy="552.3" rx="5.5" ry="4.9" fill="#000"/>
<ellipse cx="451.7" cy="541.7" rx="5.5" ry="4.9" fill="#000"/>
<rect x="319.10" y="592.00" width="11" height="11" fill="#000"/>
<rect x="383.00" y="577.20" width="11" height="11" fill="#000"/>
<rect x="446.20" y="575.30" width="11" height="11" fill="#000"/>
<text font-size="100" font-weight="normal" fill="#111" stroke="#111" stroke-width="0.75" transform="translate(467.88,538.35) scale(0.16897,0.15143)">IL-1R&#945;</text>
<text font-size="100" font-weight="normal" fill="#111" stroke="#111" stroke-width="0.90" transform="translate(271.47,583.78) rotate(-90) scale(0.13647,0.12979)">Signal</text>
<rect x="311.2" y="635" width="155.3" height="80.20000000000005" fill="none" stroke="#111" stroke-width="1.3"/>
<line x1="307.8" y1="653.1" x2="311.2" y2="653.1" stroke="#111" stroke-width="1.2"/>
<text font-size="100" font-weight="bold" fill="#111" transform="translate(280.86,656.79) scale(0.11256,0.10704)">8000</text>
<line x1="307.8" y1="685.4" x2="311.2" y2="685.4" stroke="#111" stroke-width="1.2"/>
<text font-size="100" font-weight="bold" fill="#111" transform="translate(280.86,689.09) scale(0.11256,0.10704)">4000</text>
<line x1="307.8" y1="715.2" x2="311.2" y2="715.2" stroke="#111" stroke-width="1.2"/>
<line x1="308.2" y1="669" x2="311.2" y2="669" stroke="#111" stroke-width="1.1"/>
<line x1="308.2" y1="700.4" x2="311.2" y2="700.4" stroke="#111" stroke-width="1.1"/>
<polyline points="325.5,709 388.1,664.2 452.3,697" fill="none" stroke="#111" stroke-width="1.2"/>
<polyline points="325.5,710 388.1,698 452.3,706.5" fill="none" stroke="#111" stroke-width="1.2"/>
<ellipse cx="325.5" cy="709" rx="5.5" ry="4.9" fill="#000"/>
<ellipse cx="388.1" cy="664.2" rx="5.5" ry="4.9" fill="#000"/>
<ellipse cx="452.3" cy="697" rx="5.5" ry="4.9" fill="#000"/>
<rect x="320.00" y="704.50" width="11" height="11" fill="#000"/>
<rect x="382.60" y="692.50" width="11" height="11" fill="#000"/>
<rect x="446.80" y="701.00" width="11" height="11" fill="#000"/>
<text font-size="100" font-weight="normal" fill="#111" stroke="#111" stroke-width="0.80" transform="translate(471.92,649.73) scale(0.15484,0.14615)">p21</text>
<text font-size="100" font-weight="bold" fill="#111" stroke="#111" stroke-width="2.69" transform="translate(498.63,645.56) scale(0.09326,0.09255)">cip1</text>
<text font-size="100" font-weight="normal" fill="#111" stroke="#111" stroke-width="0.90" transform="translate(271.47,690.68) rotate(-90) scale(0.13571,0.12979)">Signal</text>
<text font-size="100" font-weight="bold" fill="#111" transform="translate(296.12,720.41) scale(0.09574,0.08873)">0</text>
<text font-size="100" font-weight="bold" fill="#111" transform="translate(296.81,609.50) scale(0.12340,0.10282)">0</text>
<text font-size="100" font-weight="normal" fill="#111" stroke="#111" stroke-width="0.81" transform="translate(321.66,738.86) scale(0.16042,0.13803)">0</text>
<text font-size="100" font-weight="normal" fill="#111" stroke="#111" stroke-width="0.83" transform="translate(383.12,738.37) scale(0.15652,0.13380)">6</text>
<text font-size="100" font-weight="normal" fill="#111" stroke="#111" stroke-width="0.78" transform="translate(444.03,738.86) scale(0.17071,0.13803)">16</text>
<text font-size="100" font-weight="normal" fill="#111" stroke="#111" stroke-width="0.79" transform="translate(362.99,752.19) scale(0.15639,0.14787)">Time (h)</text>
<rect x="312.1" y="778.1" width="105.6" height="64.1" fill="none" stroke="#111" stroke-width="1.3"/>
<line x1="318.8" y1="794.8" x2="364.6" y2="794.8" stroke="#111" stroke-width="1.2"/>
<circle cx="340.4" cy="794.8" r="4.2" fill="#000"/>
<text font-size="100" font-weight="normal" fill="#111" stroke="#111" stroke-width="0.79" transform="translate(369.50,800.85) scale(0.15859,0.14595)">Adult</text>
<line x1="318.8" y1="827.1" x2="364.6" y2="827.1" stroke="#111" stroke-width="1.2"/>
<rect x="335.7" y="822.4" width="9.4" height="9.4" fill="#000"/>
<text font-size="100" font-weight="normal" fill="#111" stroke="#111" stroke-width="0.77" transform="translate(368.72,833.15) scale(0.16061,0.15211)">UCB</text>
</svg>
</body></html>
